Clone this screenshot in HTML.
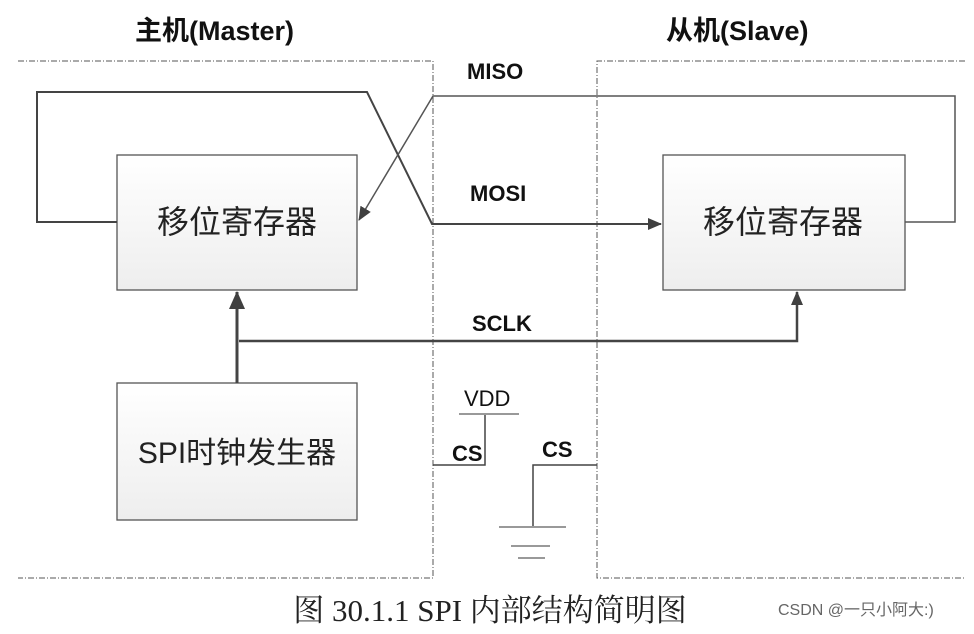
<!DOCTYPE html>
<html><head><meta charset="utf-8"><style>
body{margin:0;background:#fff;width:974px;height:629px;overflow:hidden}
</style></head><body>
<svg width="974" height="629" xmlns="http://www.w3.org/2000/svg" font-family="Liberation Sans, Noto Sans CJK SC, sans-serif">
<defs>
<linearGradient id="g" x1="0" y1="0" x2="0" y2="1"><stop offset="0" stop-color="#fff"/><stop offset="1" stop-color="#eeeeee"/></linearGradient>
<marker id="a" markerWidth="14" markerHeight="14" refX="13" refY="7" orient="auto" markerUnits="userSpaceOnUse"><path d="M0,1 L14,7 L0,13 z" fill="#404040"/></marker>
<marker id="b" markerWidth="18" markerHeight="16" refX="17" refY="8" orient="auto" markerUnits="userSpaceOnUse"><path d="M0,0 L18,8 L0,16 z" fill="#404040"/></marker>
</defs>
<text x="135" y="40" font-size="27" font-weight="bold" fill="#111">主机(Master)</text>
<text x="666" y="40" font-size="27" font-weight="bold" fill="#111">从机(Slave)</text>
<g fill="none" stroke="#555" stroke-dasharray="6,2,1,2" stroke-width="1">
<path d="M18,61 H433 V578 H18"/>
<path d="M965,61 H597 V578 H965"/>
</g>
<g fill="url(#g)" stroke="#555" stroke-width="1.3">
<rect x="117" y="155" width="240" height="135"/>
<rect x="663" y="155" width="242" height="135"/>
<rect x="117" y="383" width="240" height="137"/>
</g>
<g font-size="32" fill="#222" text-anchor="middle">
<text x="237" y="233">移位寄存器</text>
<text x="783" y="233">移位寄存器</text>
<text x="237" y="463" font-size="30">SPI时钟发生器</text>
</g>
<g fill="none">
<path d="M117,222 H37 V92 H367 L432,224 H661" stroke="#444" stroke-width="2" marker-end="url(#a)"/>
<path d="M905,222 H955 V96 H433 L359,220" stroke="#555" stroke-width="1.5" marker-end="url(#a)"/>
<path d="M237,383 V292" stroke="#444" stroke-width="3" marker-end="url(#b)"/>
<path d="M239,341 H797 V292" stroke="#444" stroke-width="2.5" marker-end="url(#a)"/>
<path d="M433,465 H485 V414" stroke="#444" stroke-width="1.5"/>
<path d="M459,414 H519" stroke="#999" stroke-width="2"/>
<path d="M597,465 H533 V527" stroke="#444" stroke-width="1.5"/>
<path d="M499,527 H566 M511,546 H550 M518,558 H545" stroke="#999" stroke-width="2"/>
</g>
<g font-size="22" font-weight="bold" fill="#111">
<text x="467" y="79">MISO</text>
<text x="470" y="201">MOSI</text>
<text x="472" y="331">SCLK</text>
<text x="452" y="461">CS</text>
<text x="542" y="457">CS</text>
</g>
<text x="464" y="406" font-size="22" fill="#111">VDD</text>
<text x="490" y="621" font-size="31" fill="#222" text-anchor="middle" font-family="Liberation Serif, Noto Serif CJK SC, serif">图 30.1.1 SPI 内部结构简明图</text>
<text x="778" y="615" font-size="16" fill="#666">CSDN @一只小阿大:)</text>
</svg>
</body></html>
